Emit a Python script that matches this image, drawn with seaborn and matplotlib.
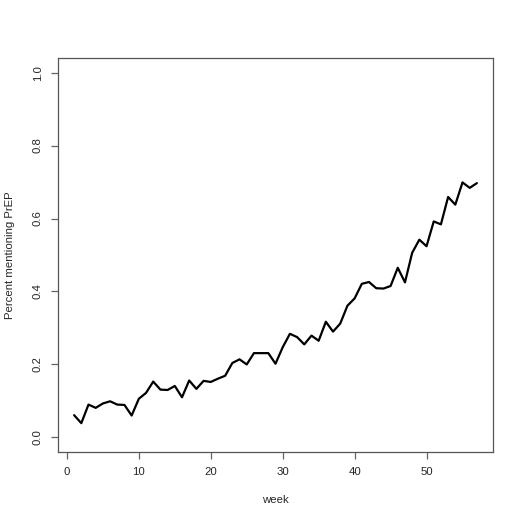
import numpy as np
import pandas as pd
import matplotlib
matplotlib.use("Agg")
import matplotlib.pyplot as plt
import seaborn as sns

week = list(range(1, 58))
pct_prep = [
    0.061, 0.039, 0.090, 0.081, 0.093, 0.099, 0.090, 0.089, 0.060, 0.106,
    0.122, 0.153, 0.131, 0.130, 0.141, 0.110, 0.156, 0.133, 0.155, 0.152,
    0.161, 0.169, 0.204, 0.214, 0.200, 0.231, 0.231, 0.231, 0.202, 0.247,
    0.284, 0.275, 0.255, 0.279, 0.265, 0.317, 0.290, 0.312, 0.361, 0.381,
    0.421, 0.426, 0.409, 0.408, 0.415, 0.465, 0.425, 0.506, 0.542, 0.524,
    0.592, 0.584, 0.659, 0.638, 0.699, 0.684, 0.697,
]
x_ticks = [0, 10, 20, 30, 40, 50]
y_ticks = [0.0, 0.2, 0.4, 0.6, 0.8, 1.0]

df = pd.DataFrame({"week": week, "pct": pct_prep})

sns.set_style("ticks")
plt.rcParams['font.family'] = ['Liberation Sans', 'DejaVu Sans']

fig = plt.figure(figsize=(5.25, 5.25), dpi=100)
ax = fig.add_axes([58 / 525, 73 / 525, 435 / 525, 394 / 525])

sns.lineplot(data=df, x="week", y="pct", color="black", linewidth=1.6, ax=ax)

# R-style 4% padding on each side
xr = max(week) - min(week)
ax.set_xlim(min(week) - 0.04 * xr, max(week) + 0.04 * xr)
ax.set_ylim(-0.04, 1.04)

ax.set_xticks(x_ticks)
ax.set_xticklabels([str(t) for t in x_ticks])
ax.set_yticks(y_ticks)
ax.set_yticklabels([f"{t:.1f}" for t in y_ticks], rotation=90, va="center")

for s in ax.spines.values():
    s.set_color("#555555")
    s.set_linewidth(0.9)

ax.tick_params(axis="both", direction="out", length=5, width=0.9,
               color="#666666", labelsize=8.2, pad=6)

ax.set_xlabel("week", fontsize=8.2, labelpad=13)
ax.set_ylabel("Percent mentioning PrEP", fontsize=8.2, labelpad=13)

fig.savefig("out.png", dpi=100)
